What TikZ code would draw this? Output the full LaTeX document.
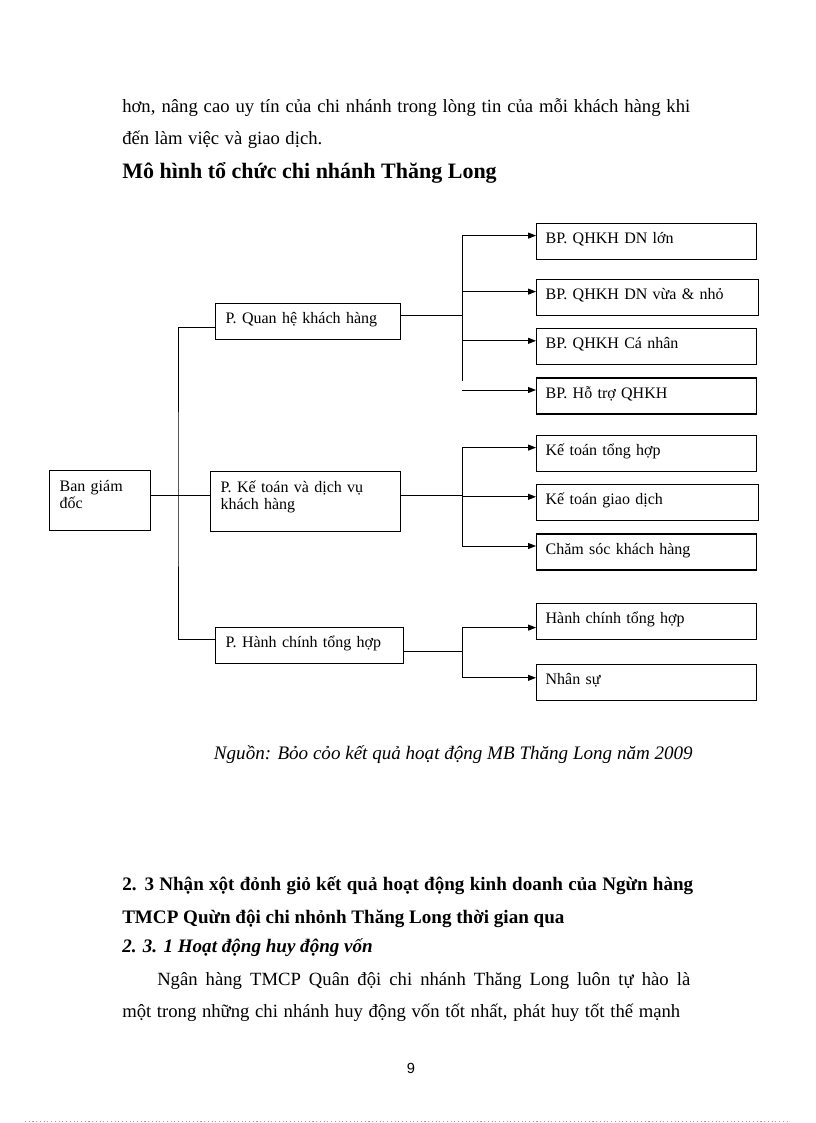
\documentclass[tikz,border=0pt]{standalone}
\usepackage{fontspec}
\setmainfont{Liberation Serif}
\setsansfont{Liberation Sans}
\usetikzlibrary{arrows.meta,positioning}

\begin{document}
\begin{tikzpicture}[
        x=0.75pt, y=-0.75pt,
        font=\fontsize{14}{16}\selectfont,
        body/.style={anchor=base west, inner sep=0pt},
        heading/.style={body, font=\fontsize{14.3}{16}\selectfont\bfseries},
        dept_box/.style={draw, line width=0.9pt, anchor=north west, inner xsep=7.5pt, inner ysep=0pt, minimum height=27pt, text height=15pt, text depth=12pt, align=left, font=\fontsize{12}{13.2}\selectfont},
        unit_box/.style={dept_box, inner xsep=6.75pt, text width=151.5pt},
        tall/.style={minimum height=45pt, text height=15.5pt, text depth=29.5pt},
        link/.style={line width=0.75pt},
        arrow/.style={link, -{Triangle[length=6pt, width=4.5pt]}}
    ]
        \useasboundingbox (0,0) rectangle (816,1123);

        \node[body] (prev_a) at (122,113) {\makebox[426pt][s]{hơn, nâng cao uy tín của chi nhánh trong lòng tin của mỗi khách hàng khi}};
        \node[body] (prev_b) at (122,145) {\makebox[150pt][s]{đến làm việc và giao dịch.}};
        \node[body, font=\fontsize{16.5}{18}\selectfont\bfseries] (title) at (122,179) {Mô hình tổ chức chi nhánh Thăng Long};

        % departments
        \node[dept_box, tall, text width=60.75pt] (board) at (49,470) {Ban giám\\đốc};
        \node[dept_box, text width=123.75pt] (crm) at (215,303) {P. Quan hệ khách hàng};
        \node[dept_box, tall, text width=127.5pt] (acct) at (210,471) {P. Kế toán và dịch vụ\\khách hàng};
        \node[dept_box, text width=126pt] (admin) at (215,627) {P. Hành chính tổng hợp};

        % units
        \node[unit_box] (bp_large) at (536,223) {BP. QHKH DN lớn};
        \node[unit_box, text width=153pt] (bp_sme) at (536,279) {BP. QHKH DN vừa \& nhỏ};
        \node[unit_box, below=9pt of bp_sme.south west, anchor=north west] (bp_retail) {BP. QHKH Cá nhân};
        \node[unit_box, below=9pt of bp_retail.south west, anchor=north west] (bp_support) {BP. Hỗ trợ QHKH};

        \node[unit_box] (acc_general) at (536,435) {Kế toán tổng hợp};
        \node[unit_box, text width=153pt, below=9pt of acc_general.south west, anchor=north west] (acc_trans) {Kế toán giao dịch};
        \node[unit_box, below=9pt of acc_trans.south west, anchor=north west] (care) {Chăm sóc khách hàng};

        \node[unit_box] (hr_general) at (536,603) {Hành chính tổng hợp};
        \node[unit_box, below=18pt of hr_general.south west, anchor=north west] (staff) {Nhân sự};

        % board to departments
        \coordinate (spine) at (178,495);
        \draw[link] ([yshift=3.75pt]board.east) -- ([yshift=3.75pt]board.east -| acct.west);
        \draw[link] ([yshift=-4.5pt]crm.west) -| (spine) |- ([yshift=4.5pt]admin.west);

        % departments to units
        \coordinate (fork_crm) at (462,315);
        \draw[link] (crm.east |- fork_crm) -- (fork_crm);
        \draw[link] ([yshift=4.5pt]bp_large.west -| fork_crm) -- ([yshift=11.25pt]bp_support.west -| fork_crm);
        \foreach \unit in {bp_large,bp_sme,bp_retail,bp_support}
            \draw[arrow] ([yshift=4.5pt]\unit.west -| fork_crm) -- ([yshift=4.5pt]\unit.west);

        \coordinate (fork_acct) at (462,495);
        \draw[link] (acct.east |- fork_acct) -- (fork_acct);
        \draw[link] ([yshift=4.5pt]acc_general.west -| fork_acct) -- ([yshift=4.5pt]care.west -| fork_acct);
        \foreach \unit in {acc_general,acc_trans,care}
            \draw[arrow] ([yshift=4.5pt]\unit.west -| fork_acct) -- ([yshift=4.5pt]\unit.west);

        \coordinate (fork_admin) at (462,651);
        \draw[link] (admin.east |- fork_admin) -- (fork_admin);
        \draw[link] ([yshift=-4.5pt]hr_general.west -| fork_admin) -- ([yshift=3.75pt]staff.west -| fork_admin);
        \draw[arrow] ([yshift=-4.5pt]hr_general.west -| fork_admin) -- ([yshift=-4.5pt]hr_general.west);
        \draw[arrow] ([yshift=3.75pt]staff.west -| fork_admin) -- ([yshift=3.75pt]staff.west);

        \node[anchor=base east, inner sep=0pt, font=\fontsize{14.3}{16}\selectfont\itshape] (source) at (693,759) {Nguồn: Bỏo cỏo kết quả hoạt động MB Thăng Long năm 2009};

        % next section
        \node[heading] (sec) at (122,890) {\makebox[428.25pt][s]{2. 3 Nhận xột đỏnh giỏ kết quả hoạt động kinh doanh của Ngừn hàng}};
        \node[heading] (sec_b) at (122,923) {TMCP Quừn đội chi nhỏnh Thăng Long thời gian qua};
        \node[heading, font=\fontsize{14.3}{16}\selectfont\bfseries\itshape] (subsec) at (122,952) {2. 3. 1 Hoạt động huy động vốn};
        \node[body] (next_a) at (157,985) {\makebox[399.75pt][s]{Ngân hàng TMCP Quân đội chi nhánh Thăng Long luôn tự hào là}};
        \node[body] (next_b) at (122,1017) {\makebox[418.5pt][s]{một trong những chi nhánh huy động vốn tốt nhất, phát huy tốt thế mạnh}};

        \node[anchor=base, inner sep=0pt, font=\sffamily\fontsize{11}{13}\selectfont] (page_no) at (411,1073) {9};
        \draw[dotted, line width=0.8pt, gray!60!pink] (25,1121.5) -- (790,1121.5);
    \end{tikzpicture}
\end{document}
